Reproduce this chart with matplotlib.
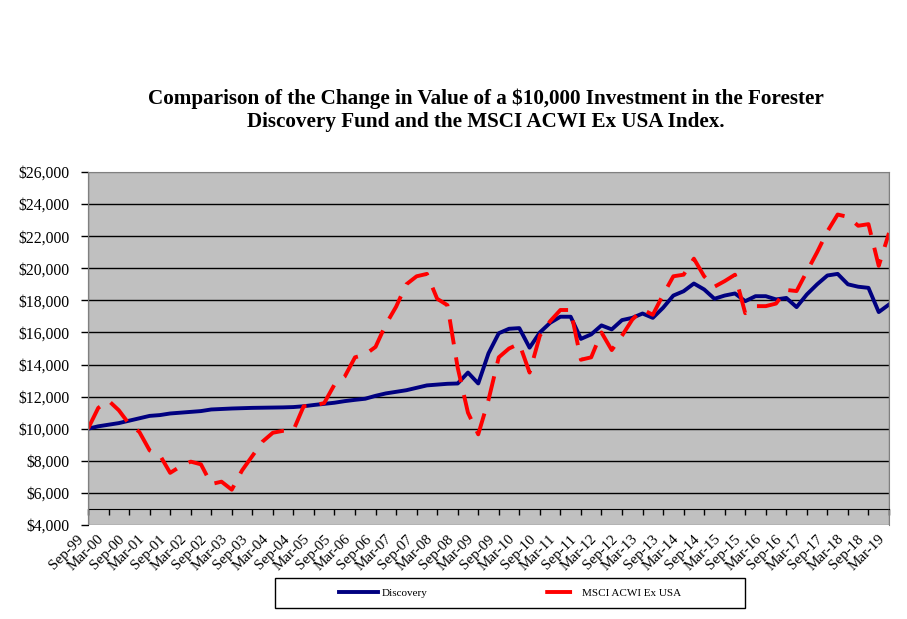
import matplotlib
matplotlib.use('Agg')
import matplotlib.pyplot as plt
import matplotlib.transforms as mtransforms
from matplotlib.patches import Rectangle
from matplotlib.lines import Line2D

# quarterly values, Sep-99 .. Mar-19
discovery = [10000, 10150, 10250, 10350, 10500, 10650, 10800, 10850, 10950, 11000,
             11050, 11100, 11200, 11230, 11260, 11280, 11300, 11310, 11320, 11330,
             11350, 11400, 11480, 11550, 11620, 11720, 11800, 11870, 12050, 12200,
             12300, 12400, 12550, 12700, 12750, 12800, 12820, 13500, 12820, 14700,
             15950, 16230, 16270, 15050, 16000, 16600, 16980, 16980, 15600, 15880,
             16440, 16190, 16770, 16910, 17180, 16910, 17540, 18300, 18570, 19050,
             18680, 18100, 18300, 18430, 17950, 18260, 18260, 18060, 18150, 17580,
             18370, 19000, 19550, 19650, 19000, 18850, 18780, 17270, 17740]

msci = [10000, 11300, 11750, 11150, 10300, 9800, 8650, 8350, 7250, 7650,
        7950, 7780, 6550, 6700, 6200, 7400, 8300, 9200, 9750, 9870,
        9900, 11400, 11450, 11600, 12750, 13250, 14450, 14630, 15100, 16500,
        17600, 19000, 19500, 19650, 18100, 17700, 13800, 11000, 9650, 11800,
        14450, 15000, 15300, 13500, 15800, 16700, 17400, 17400, 14300, 14450,
        16000, 14900, 15800, 16800, 17430, 17100, 18350, 19500, 19600, 20600,
        19500, 18850, 19200, 19600, 17200, 17640, 17640, 17800, 18650, 18580,
        19800, 21000, 22300, 23350, 23200, 22650, 22750, 20150, 22200]

x_labels = ['Sep-99', 'Mar-00', 'Sep-00', 'Mar-01', 'Sep-01', 'Mar-02', 'Sep-02', 'Mar-03',
            'Sep-03', 'Mar-04', 'Sep-04', 'Mar-05', 'Sep-05', 'Mar-06', 'Sep-06', 'Mar-07',
            'Sep-07', 'Mar-08', 'Sep-08', 'Mar-09', 'Sep-09', 'Mar-10', 'Sep-10', 'Mar-11',
            'Sep-11', 'Mar-12', 'Sep-12', 'Mar-13', 'Sep-13', 'Mar-14', 'Sep-14', 'Mar-15',
            'Sep-15', 'Mar-16', 'Sep-16', 'Mar-17', 'Sep-17', 'Mar-18', 'Sep-18', 'Mar-19']

y_ticks = [4000, 6000, 8000, 10000, 12000, 14000, 16000, 18000, 20000, 22000, 24000, 26000]
y_labels = ['$4,000', '$6,000', '$8,000', '$10,000', '$12,000', '$14,000', '$16,000',
            '$18,000', '$20,000', '$22,000', '$24,000', '$26,000']

plt.rcParams['font.family'] = ['Liberation Serif', 'DejaVu Serif']

fig = plt.figure(figsize=(9.07, 6.19), dpi=100)
ax = fig.add_axes([88/907, 1-525/619, 801/907, 353/619])
ax.set_facecolor('#c0c0c0')

x = list(range(len(discovery)))
ax.hlines(y_ticks[1:-1], 0, len(x) - 1, color='black', lw=1, zorder=1)
ax.plot(x, discovery, color='#000080', lw=2.8, zorder=3)
ax.plot(x, msci, color='#ff0000', lw=2.8, linestyle=(0, (6.5, 3.4)), zorder=3)

ax.set_xlim(0, len(x) - 1)
ax.set_ylim(4000, 26000)

ax.set_yticks(y_ticks)
ax.set_yticklabels(y_labels, fontsize=11.3)
ax.tick_params(axis='y', direction='out', length=5, width=1, pad=8)

# category axis crosses at $5,000
ax.spines['bottom'].set_position(('data', 5000))
ax.set_xticks(x[::2])
ax.set_xticklabels(x_labels, rotation=45, ha='right', va='top',
                   rotation_mode='anchor', fontsize=10.8)
ax.tick_params(axis='x', direction='out', length=4, width=1, pad=13)
shift = mtransforms.ScaledTranslation(-11/100, 0, fig.dpi_scale_trans)
for lab in ax.get_xticklabels():
    lab.set_transform(lab.get_transform() + shift)

for s in ['top', 'right']:
    ax.spines[s].set_color('#808080')
ax.add_patch(Rectangle((0, 0), 1, 1, transform=ax.transAxes, fill=False,
                       edgecolor='#808080', lw=1, zorder=4))

fig.text(0.536, 1-110.5/619,
         'Comparison of the Change in Value of a $10,000 Investment in the Forester\n'
         'Discovery Fund and the MSCI ACWI Ex USA Index.',
         ha='center', va='center', fontsize=15.2, fontweight='bold', linespacing=1.2)

# legend box
fig.add_artist(Rectangle((275/907, 1-608/619), 470/907, 30/619,
                         transform=fig.transFigure, fill=False, edgecolor='black', lw=1))
handles = [Line2D([], [], color='#000080', lw=2.8),
           Line2D([], [], color='#ff0000', lw=2.8, linestyle=(0, (0.001, 1.6, 6.9, 20)))]
fig.legend(handles, ['Discovery', 'MSCI ACWI Ex USA'], loc='center',
           bbox_to_anchor=(510/907, 1-593/619), ncol=2, frameon=False, fontsize=8,
           handlelength=3.5, handletextpad=0.4, columnspacing=10)

fig.savefig('out.png', dpi=100)
